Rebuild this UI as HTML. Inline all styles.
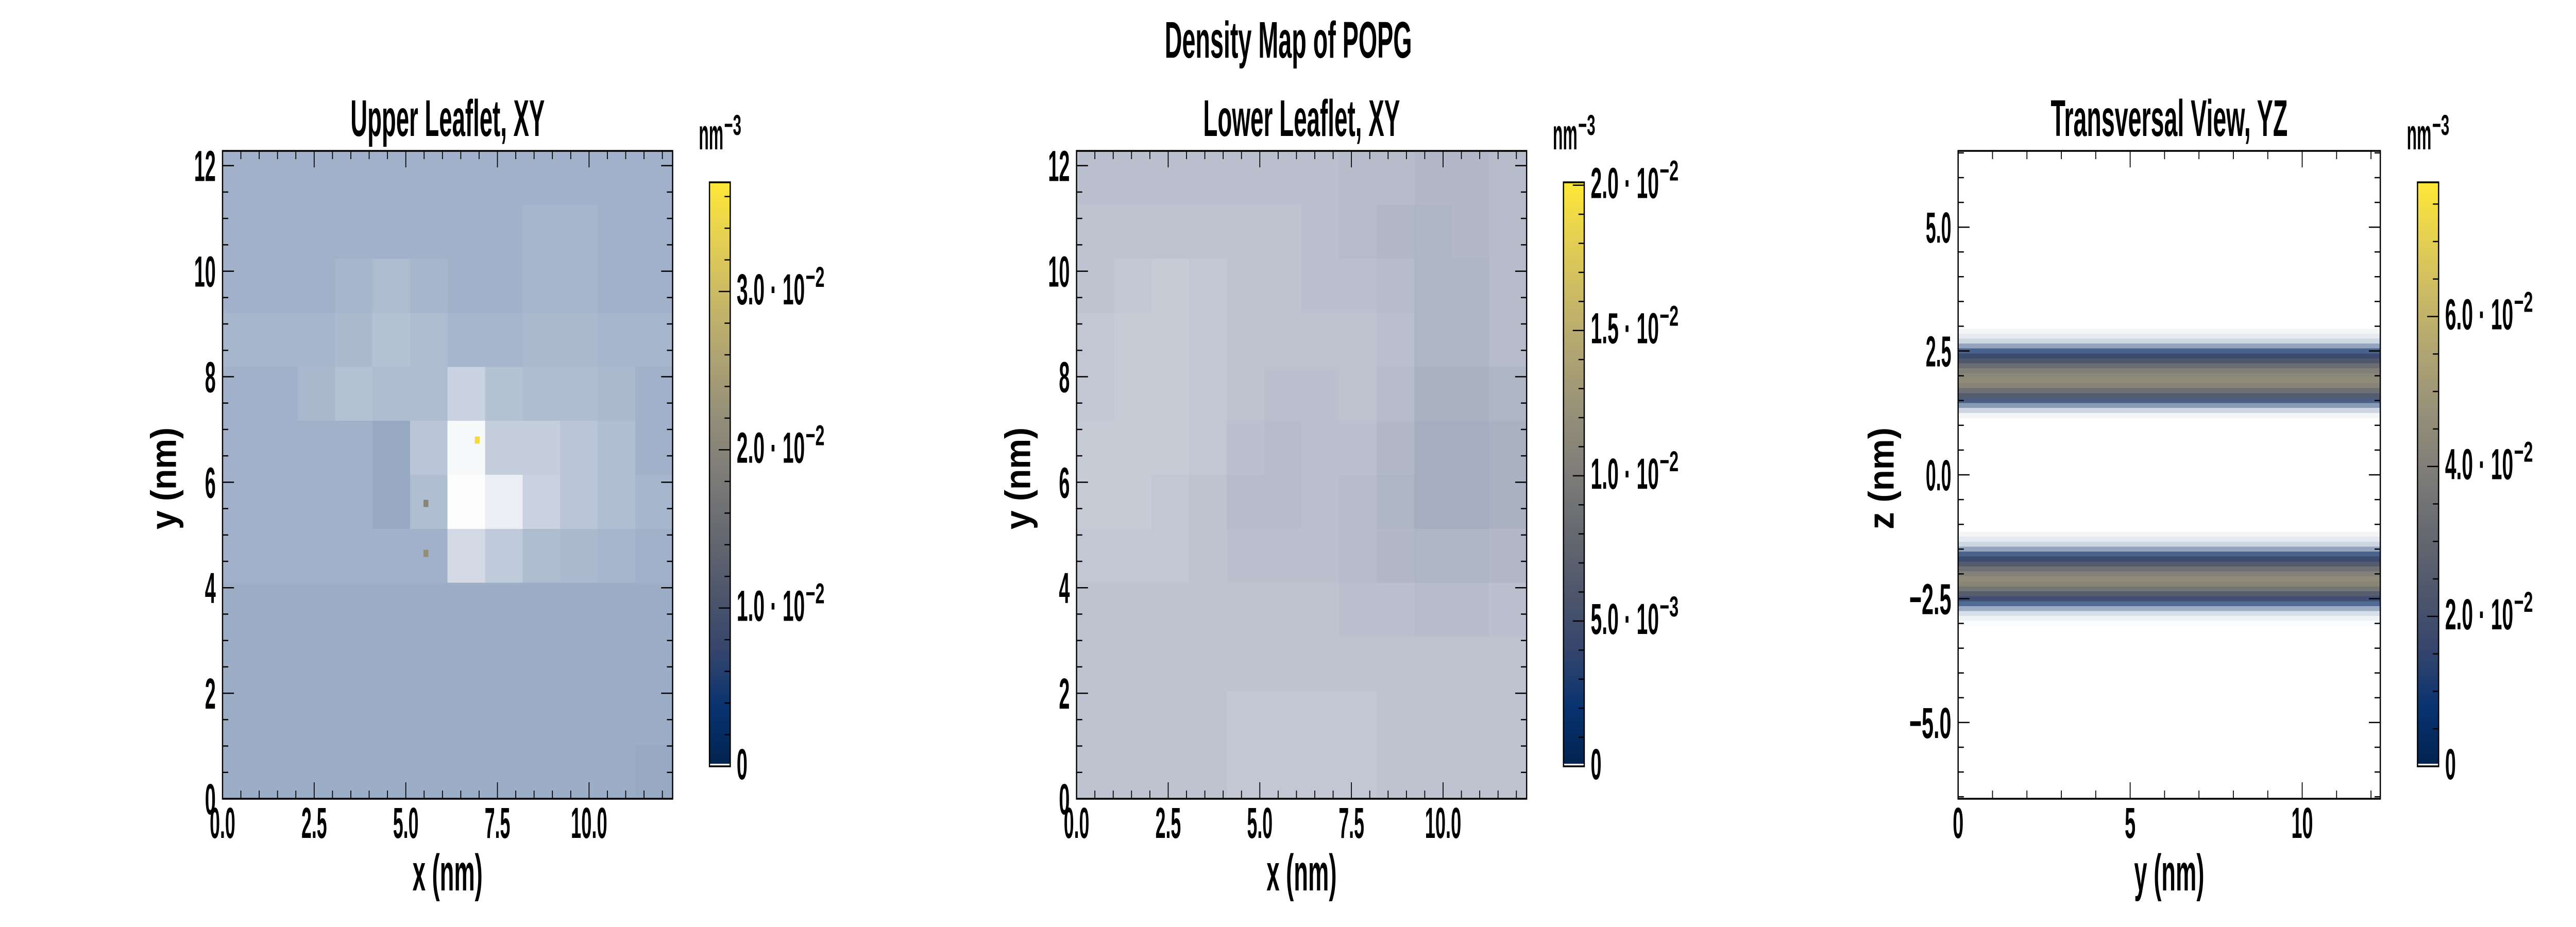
<!DOCTYPE html>
<html><head><meta charset="utf-8">
<style>
html,body{margin:0;padding:0;background:#fff;overflow:hidden;}
svg{display:block;width:100vw;height:100vh;}
text{font-family:"Liberation Sans",sans-serif;font-weight:bold;fill:#000;}
</style></head>
<body>
<svg id="fig" xmlns="http://www.w3.org/2000/svg" viewBox="0 0 7200 1800" preserveAspectRatio="none">
<rect width="7200" height="1800" fill="#fff"/>
</svg>
<script>
// ---------- DATA ----------
// Upper leaflet: occupancy fraction per 1nm cell (rows from y=12 down to y=0, columns x=0..12)
const upperOcc = [
[0.38,0.38,0.38,0.38,0.38,0.38,0.38,0.38,0.38,0.38,0.38,0.38],
[0.38,0.38,0.38,0.38,0.38,0.38,0.38,0.38,0.36,0.36,0.38,0.38],
[0.38,0.38,0.38,0.36,0.33,0.36,0.38,0.38,0.36,0.36,0.38,0.38],
[0.36,0.36,0.36,0.34,0.30,0.33,0.36,0.36,0.34,0.34,0.36,0.36],
[0.38,0.38,0.35,0.30,0.33,0.33,0.22,0.30,0.33,0.33,0.34,0.38],
[0.38,0.38,0.38,0.38,0.42,0.28,0.03,0.24,0.24,0.28,0.32,0.38],
[0.38,0.38,0.38,0.38,0.42,0.32,0.01,0.08,0.22,0.28,0.32,0.36],
[0.38,0.38,0.38,0.38,0.38,0.38,0.18,0.26,0.33,0.34,0.36,0.38],
[0.40,0.40,0.40,0.40,0.40,0.40,0.40,0.40,0.40,0.40,0.40,0.40],
[0.40,0.40,0.40,0.40,0.40,0.40,0.40,0.40,0.40,0.40,0.40,0.40],
[0.40,0.40,0.40,0.40,0.40,0.40,0.40,0.40,0.40,0.40,0.40,0.40],
[0.40,0.40,0.40,0.40,0.40,0.40,0.40,0.40,0.40,0.40,0.40,0.42]
];
const upperCellValue = 0.0037;
const upperSpotX = [6.95, 5.55, 5.55];
const upperSpotY = [6.8, 5.6, 4.65];
const upperSpotV = [0.035, 0.02, 0.022];
// Lower leaflet occupancy
const lowerOcc = [
[0.34,0.34,0.34,0.34,0.34,0.34,0.34,0.36,0.36,0.38,0.38,0.36],
[0.32,0.32,0.32,0.32,0.32,0.32,0.34,0.36,0.38,0.40,0.38,0.36],
[0.32,0.30,0.28,0.30,0.32,0.32,0.34,0.34,0.36,0.40,0.40,0.36],
[0.30,0.28,0.28,0.30,0.32,0.32,0.32,0.32,0.34,0.40,0.40,0.36],
[0.30,0.28,0.28,0.30,0.32,0.34,0.34,0.32,0.36,0.42,0.42,0.40],
[0.28,0.28,0.28,0.30,0.34,0.36,0.34,0.34,0.38,0.44,0.44,0.42],
[0.28,0.28,0.30,0.32,0.36,0.36,0.34,0.36,0.40,0.44,0.44,0.42],
[0.30,0.30,0.30,0.32,0.34,0.34,0.34,0.36,0.38,0.40,0.40,0.38],
[0.32,0.32,0.32,0.32,0.32,0.32,0.32,0.34,0.34,0.36,0.36,0.34],
[0.32,0.32,0.32,0.32,0.32,0.32,0.32,0.32,0.32,0.32,0.32,0.32],
[0.32,0.32,0.32,0.32,0.30,0.30,0.30,0.30,0.32,0.32,0.32,0.32],
[0.32,0.32,0.32,0.32,0.30,0.30,0.30,0.30,0.32,0.32,0.32,0.32]
];
const lowerCellValue = 0.004;
// Transversal view: z-profile (0.1 nm rows)
const bandZ = [2.9,2.8,2.7,2.6,2.5,2.4,2.3,2.2,2.1,2.0,1.9,1.8,1.7,1.6,1.5,1.4,1.3,1.2,
 -1.2,-1.3,-1.4,-1.5,-1.6,-1.7,-1.8,-1.9,-2.0,-2.1,-2.2,-2.3,-2.4,-2.5,-2.6,-2.7,-2.8,-2.9,-3.0];
const bandOcc = [0.05,0.1,0.2,0.45,0.8,0.97,1,1,1,1,1,1,1,0.98,0.85,0.5,0.2,0.05,
 0.05,0.1,0.2,0.45,0.8,0.97,1,1,1,1,1,1,1,0.95,0.75,0.4,0.15,0.06,0.02];
const bandVal = [0.006,0.007,0.008,0.009,0.011,0.016,0.024,0.033,0.040,0.044,0.045,0.042,0.034,0.024,0.014,0.009,0.007,0.006,
 0.006,0.007,0.008,0.009,0.011,0.016,0.025,0.034,0.041,0.045,0.043,0.036,0.026,0.016,0.010,0.007,0.007,0.006,0.006];
// ticks
const xyTicks = [0,2.5,5,7.5,10];
const xyTickLabels = ["0.0","2.5","5.0","7.5","10.0"];
const yTicksXY = [0,2,4,6,8,10,12];
const yTickLabelsXY = ["0","2","4","6","8","10","12"];
const yzXTicks = [0,5,10];
const yzXTickLabels = ["0","5","10"];
const yzZTicks = [-5,-2.5,0,2.5,5];
const yzZTickLabels = ["−5.0","−2.5","0.0","2.5","5.0"];
const cb1Ticks = [0,0.01,0.02,0.03];
const cb1Labels = [["0",""],["1.0 · 10","−2"],["2.0 · 10","−2"],["3.0 · 10","−2"]];
const cb2Ticks = [0,0.005,0.01,0.015,0.02];
const cb2Labels = [["0",""],["5.0 · 10","−3"],["1.0 · 10","−2"],["1.5 · 10","−2"],["2.0 · 10","−2"]];
const cb3Ticks = [0,0.02,0.04,0.06];
const cb3Labels = [["0",""],["2.0 · 10","−2"],["4.0 · 10","−2"],["6.0 · 10","−2"]];

// ---------- HELPERS ----------
const NS="http://www.w3.org/2000/svg";
const svg=document.getElementById('fig');
function mk(tag,attrs,parent){const e=document.createElementNS(NS,tag);for(const k in attrs)e.setAttribute(k,attrs[k]);(parent||svg).appendChild(e);return e;}
const stops=[[0,0,34,78],[0.1,8,51,112],[0.2,53,69,108],[0.3,79,87,108],[0.4,102,105,112],[0.5,125,124,120],[0.6,148,143,120],[0.7,174,163,115],[0.8,200,184,102],[0.9,228,207,82],[1,254,232,56]];
function cividis(t){t=Math.max(0,Math.min(1,t));for(let i=1;i<stops.length;i++){if(t<=stops[i][0]){const a=stops[i-1],b=stops[i],f=(t-a[0])/(b[0]-a[0]);return [a[1]+f*(b[1]-a[1]),a[2]+f*(b[2]-a[2]),a[3]+f*(b[3]-a[3])];}}return stops[10].slice(1);}
function rgb(c){return 'rgb('+c.map(v=>Math.round(v)).join(',')+')';}
function blend(c,o){return [255+(c[0]-255)*o,255+(c[1]-255)*o,255+(c[2]-255)*o];}
function cw(s,size){let w=0;for(const ch of s){if(/[0-9]/.test(ch))w+=0.36;else if(ch=='.')w+=0.13;else if(ch=='−')w+=0.55;else if(ch==' ')w+=0.25;else if(ch=='·')w+=0.2;else w+=0.4;}return w*size;}
function txt(x,y,s,size,anchor,len,parent){const t=mk('text',{x:x,y:y,'font-size':size,'text-anchor':anchor||'start'},parent);if(len){t.setAttribute('textLength',len);t.setAttribute('lengthAdjust','spacingAndGlyphs');}t.textContent=s;return t;}

const TOP=293,BOT=1551;
function makeAxes(o){
  const g=mk('g',{});
  
  
  const sx=v=>o.x0+(v-o.xmin)/(o.xmax-o.xmin)*(o.x1-o.x0);
  const sy=v=>BOT-(v-o.ymin)/(o.ymax-o.ymin)*(BOT-TOP);
  return {g,sx,sy};
}
function drawFrame(o,A){
  const g=A.g;
  const tg=mk('g',{stroke:'#000','stroke-width':2.5},g);
  
  
  for(let v=o.xmin;v<=o.xmax+1e-9;v+=o.xminor){const x=A.sx(v);const maj=o.xticks.some(t=>Math.abs(t-v)<1e-6);const L=maj?32:16;
    mk('line',{x1:x,x2:x,y1:BOT,y2:BOT-L},tg);mk('line',{x1:x,x2:x,y1:TOP,y2:TOP+L},tg);}
  const y0=Math.ceil(o.ymin/o.yminor-1e-9)*o.yminor;
  for(let v=y0;v<=o.ymax+1e-9;v+=o.yminor){const y=A.sy(v);const maj=o.yticks.some(t=>Math.abs(t-v)<1e-6);const L=maj?32:16;
    mk('line',{x1:o.x0,x2:o.x0+L,y1:y,y2:y},tg);mk('line',{x1:o.x1,x2:o.x1-L,y1:y,y2:y},tg);}
  const fr=mk('rect',{x:o.x0,y:TOP,width:o.x1-o.x0,height:BOT-TOP,fill:'none',stroke:'#000','stroke-width':3.5},g);
  
  
  o.xticks.forEach((v,i)=>{const s=o.xlabels[i];const t=txt(A.sx(v),1627,s,84,'middle',cw(s,84),g);
    
    });
  o.yticks.forEach((v,i)=>{const s=o.ylabels[i];const t=txt(o.x0-19,A.sy(v)+30,s,84,'end',cw(s,84),g);
    
    });
  const tt=txt((o.x0+o.x1)/2,264,o.title,100,'middle',o.titleLen,g);
  
  
  const xl=txt((o.x0+o.x1)/2,1729,o.xlab,100,'middle',196,g);
  
  
  const yl=txt(0,0,o.ylab,100,'middle',198,g);
  yl.setAttribute('transform','translate('+o.ylx+',929) rotate(-90)');
  
  
}
let gid=0;
function colorbar(cx0,cx1,vmax,ticks,labels,minor,name){
  const g=mk('g',{});
  
  
  const ct=354,cb=1488;
  const id='grad'+(gid++);
  const lg=mk('linearGradient',{id:id,x1:0,y1:1,x2:0,y2:0},g);
  for(let i=0;i<=10;i++)mk('stop',{offset:i/10,'stop-color':rgb(cividis(i/10))},lg);
  mk('rect',{x:cx0,y:ct,width:cx1-cx0,height:cb-ct,fill:'url(#'+id+')'},g);
  mk('rect',{x:cx0,y:cb-5,width:cx1-cx0,height:5,fill:'#fff'},g);
  const sy=v=>cb-v/vmax*(cb-ct);
  const tg=mk('g',{stroke:'#000','stroke-width':2.5},g);
  for(let v=0;v<=vmax+1e-12;v+=minor){const maj=ticks.some(t=>Math.abs(t-v)<minor/10);const L=maj?32:16;mk('line',{x1:cx1,x2:cx1-L,y1:sy(v),y2:sy(v)},tg);}
  mk('rect',{x:cx0,y:ct,width:cx1-cx0,height:cb-ct,fill:'none',stroke:'#000','stroke-width':3.5},g);
  ticks.forEach((v,i)=>{const y=sy(v);const main=labels[i][0],sup=labels[i][1];const w=cw(main,84);
    const t=txt(cx1+18,y+25,main,84,'start',w,g);
    
    
    if(sup){const s=txt(cx1+18+w+2,y-9,sup,56,'start',53,g);
      
      }});
  const u=txt(cx0-30,290,'nm',84,'start',69,g);
  
  
  const u2=txt(cx0-30+71,262,'−3',56,'start',48,g);
  
  
}
function heatXY(A,occ,val,vmax,xmax,hname){
  const hg=mk('g',{'shape-rendering':'crispEdges'},A.g);
  
  
  const n=occ.length;
  for(let r=0;r<n;r++)for(let c=0;c<occ[r].length;c++){
    const xa=c*xmax/12,xb=(c+1)*xmax/12,yt=(n-r)*xmax/12,yb=(n-r-1)*xmax/12;
    const col=rgb(blend(cividis(val/vmax),occ[r][c]));
    const rc=mk('rect',{x:A.sx(xa),y:A.sy(yt),width:A.sx(xb)-A.sx(xa)+0.5,height:A.sy(yb)-A.sy(yt)+0.5,fill:col},hg);
    
    
  }
  return hg;
}

// ---------- PANEL 1 ----------
const o1={name:'upper-leaflet-panel',x0:622,x1:1880,xmin:0,xmax:12.28,ymin:0,ymax:12.28,xminor:0.5,yminor:0.5,
 xticks:xyTicks,xlabels:xyTickLabels,yticks:yTicksXY,ylabels:yTickLabelsXY,title:'Upper Leaflet, XY',titleLen:543,xlab:'x (nm)',ylab:'y (nm)',ylx:492};
const A1=makeAxes(o1);
const hg1=heatXY(A1,upperOcc,upperCellValue,0.0369,12.28,'upper-heatmap');
upperSpotX.forEach((x,i)=>{const r=mk('rect',{x:A1.sx(x)-7,y:A1.sy(upperSpotY[i])-7,width:14,height:14,fill:rgb(cividis(upperSpotV[i]/0.0369))},hg1);
  
  });
drawFrame(o1,A1);
colorbar(1983,2041,0.0369,cb1Ticks,cb1Labels,0.002,'upper-colorbar');

// ---------- PANEL 2 ----------
const o2={name:'lower-leaflet-panel',x0:3009,x1:4267,xmin:0,xmax:12.28,ymin:0,ymax:12.28,xminor:0.5,yminor:0.5,
 xticks:xyTicks,xlabels:xyTickLabels,yticks:yTicksXY,ylabels:yTickLabelsXY,title:'Lower Leaflet, XY',titleLen:550,xlab:'x (nm)',ylab:'y (nm)',ylx:2879};
const A2=makeAxes(o2);
heatXY(A2,lowerOcc,lowerCellValue,0.0201,12.28,'lower-heatmap');
drawFrame(o2,A2);
colorbar(4370,4428,0.0201,cb2Ticks,cb2Labels,0.001,'lower-colorbar');

// ---------- PANEL 3 ----------
const o3={name:'transversal-panel',x0:5473,x1:6653,xmin:0,xmax:12.27,ymin:-6.54,ymax:6.54,xminor:1,yminor:0.5,
 xticks:yzXTicks,xlabels:yzXTickLabels,yticks:yzZTicks,ylabels:yzZTickLabels,title:'Transversal View, YZ',titleLen:662,xlab:'y (nm)',ylab:'z (nm)',ylx:5293};
const A3=makeAxes(o3);
const hg3=mk('g',{'shape-rendering':'crispEdges'},A3.g);


bandZ.forEach((z,i)=>{const yt=A3.sy(z+0.05),yb=A3.sy(z-0.05);
  const r=mk('rect',{x:A3.sx(0),y:yt,width:A3.sx(12.27)-A3.sx(0),height:yb-yt+0.5,fill:rgb(blend(cividis(bandVal[i]/0.0779),bandOcc[i]))},hg3);
  
  });
drawFrame(o3,A3);
colorbar(6757,6816,0.0779,cb3Ticks,cb3Labels,0.005,'transversal-colorbar');

// ---------- SUPTITLE ----------
const st=txt(3601,112,'Density Map of POPG',100,'middle',691);


</script>
</body></html>
